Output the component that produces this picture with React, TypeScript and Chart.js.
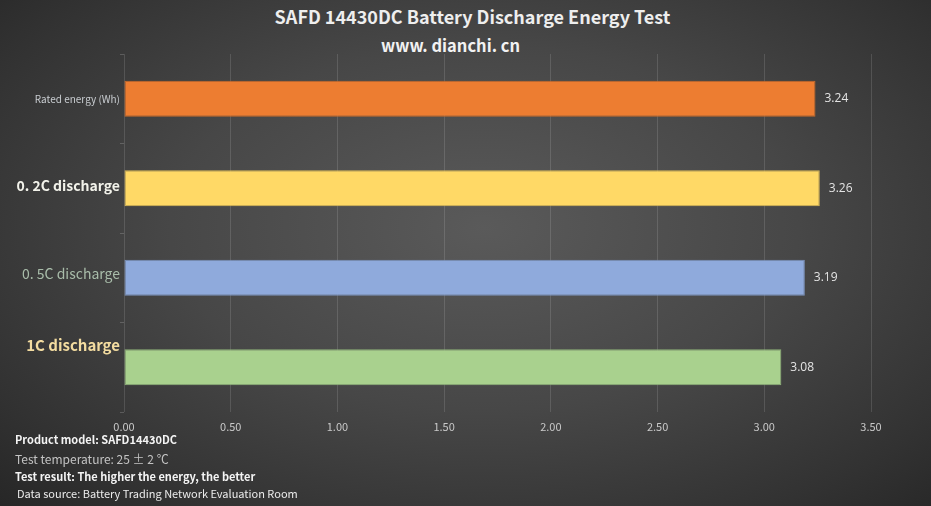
import React, { useEffect, useRef } from "react";
import { Chart, registerables } from "chart.js";

Chart.register(...registerables);

// Données
const categories = ["Rated energy (Wh)", "0. 2C discharge", "0. 5C discharge", "1C discharge"];
const energies = [3.24, 3.26, 3.19, 3.08];
const barColors = ["#ED7D31", "#FFD966", "#8FAADC", "#A9D18E"];
const barBorders = ["#c96a2a", "#d9b856", "#7a91bb", "#8fb279"];
const xTicks = [0, 0.5, 1, 1.5, 2, 2.5, 3, 3.5];

// Style des libellés de catégorie (chacun différent dans l'original)
const labelColors = ["#c8ccd0", "#f2f2ea", "#a9bdaa", "#f3dca0"];
const labelFonts = ["normal 10px", "bold 14px", "normal 14px", "bold 15px"];
const labelShift = [0, -3, -4, -22];

const FONT = "'Noto Sans CJK SC', 'Noto Sans', sans-serif";

// Libellés de l'axe Y dessinés à la main pour garder leurs décalages
const categoryLabels = {
  id: "categoryLabels",
  afterDraw(chart: any) {
    const { ctx } = chart;
    const y = chart.scales.y;
    ctx.save();
    ctx.textAlign = "right";
    ctx.textBaseline = "middle";
    categories.forEach((label, i) => {
      ctx.font = `${labelFonts[i]} ${FONT}`;
      ctx.fillStyle = labelColors[i];
      ctx.fillText(label, 120, y.getPixelForTick(i) + labelShift[i]);
    });
    ctx.restore();
  },
};

// Étiquettes de valeur au bout des barres
const valueLabels = {
  id: "valueLabels",
  afterDatasetsDraw(chart: any) {
    const { ctx } = chart;
    const meta = chart.getDatasetMeta(0);
    ctx.save();
    ctx.font = `12px 'Open Sans', ${FONT}`;
    ctx.fillStyle = "#e4e4e4";
    ctx.textAlign = "left";
    ctx.textBaseline = "middle";
    meta.data.forEach((bar: any, i: number) => {
      ctx.fillText(energies[i].toFixed(2), bar.x + 9, bar.y);
    });
    ctx.restore();
  },
};

const App = () => {
  const canvasRef = useRef<HTMLCanvasElement>(null);

  useEffect(() => {
    document.body.style.margin = "0";
    if (!canvasRef.current) return;
    const chart = new Chart(canvasRef.current, {
      type: "bar",
      data: {
        labels: categories,
        datasets: [
          {
            data: energies,
            backgroundColor: barColors,
            borderColor: barBorders,
            borderWidth: 1,
            borderSkipped: false,
            categoryPercentage: 1,
            barPercentage: 0.4,
          },
        ],
      },
      options: {
        indexAxis: "y",
        animation: false,
        responsive: false,
        layout: { padding: { top: 54, right: 60, bottom: 72, left: 0 } },
        plugins: {
          legend: { display: false },
          tooltip: { enabled: false },
        },
        scales: {
          x: {
            min: 0,
            max: 3.5,
            afterBuildTicks: (s: any) => {
              s.ticks = xTicks.map((v) => ({ value: v }));
            },
            afterFit: (s: any) => {
              s.height = 22;
            },
            grid: { color: "rgba(255,255,255,0.13)", drawTicks: false },
            border: { display: false },
            ticks: {
              padding: 8,
              color: "#c9c9c9",
              font: { family: FONT, size: 11 },
              callback: (v: any) => Number(v).toFixed(2),
            },
          },
          y: {
            afterFit: (s: any) => {
              s.width = 124;
            },
            grid: {
              offset: true,
              drawOnChartArea: false,
              color: "rgba(255,255,255,0.18)",
              tickLength: 4,
            },
            border: { display: false },
            ticks: { display: false },
          },
        },
      },
      plugins: [valueLabels, categoryLabels],
    });
    return () => chart.destroy();
  }, []);

  const line = (top: number, size: number, bold: boolean, color: string, left = 15) => ({
    position: "absolute" as const,
    left,
    top,
    fontSize: size,
    fontWeight: bold ? 700 : 400,
    color,
    lineHeight: 1,
    whiteSpace: "nowrap" as const,
  });

  return (
    <div
      style={{
        position: "relative",
        width: 931,
        height: 506,
        fontFamily: FONT,
        background:
          "radial-gradient(ellipse 75% 80% at 52% 45%, #5a5a5a 0%, #474747 45%, #323232 80%, #252525 100%)",
        overflow: "hidden",
      }}
    >
      <div
        style={{
          position: "absolute",
          top: 6,
          left: 7,
          width: "100%",
          textAlign: "center",
          fontSize: 18,
          fontWeight: 700,
          color: "#eeeeee",
          lineHeight: 1.2,
        }}
      >
        SAFD 14430DC Battery Discharge Energy Test
      </div>
      <div
        style={{
          position: "absolute",
          top: 36,
          left: -15,
          width: "100%",
          textAlign: "center",
          fontSize: 16.5,
          fontWeight: 700,
          color: "#f2f2f2",
          lineHeight: 1.2,
        }}
      >
        www. dianchi. cn
      </div>
      <canvas ref={canvasRef} width={931} height={506} style={{ position: "absolute", left: 0, top: 0 }} />
      <div style={line(434, 11, true, "#f4f4f4")}>Product model: SAFD14430DC</div>
      <div style={line(453, 12, false, "#c4c4c4")}>Test temperature: 25 ± 2 ℃</div>
      <div style={line(471, 11, true, "#f4f4f4")}>Test result: The higher the energy, the better</div>
      <div style={line(488, 11, false, "#ececec", 17)}>Data source: Battery Trading Network Evaluation Room</div>
    </div>
  );
};

export default App;
